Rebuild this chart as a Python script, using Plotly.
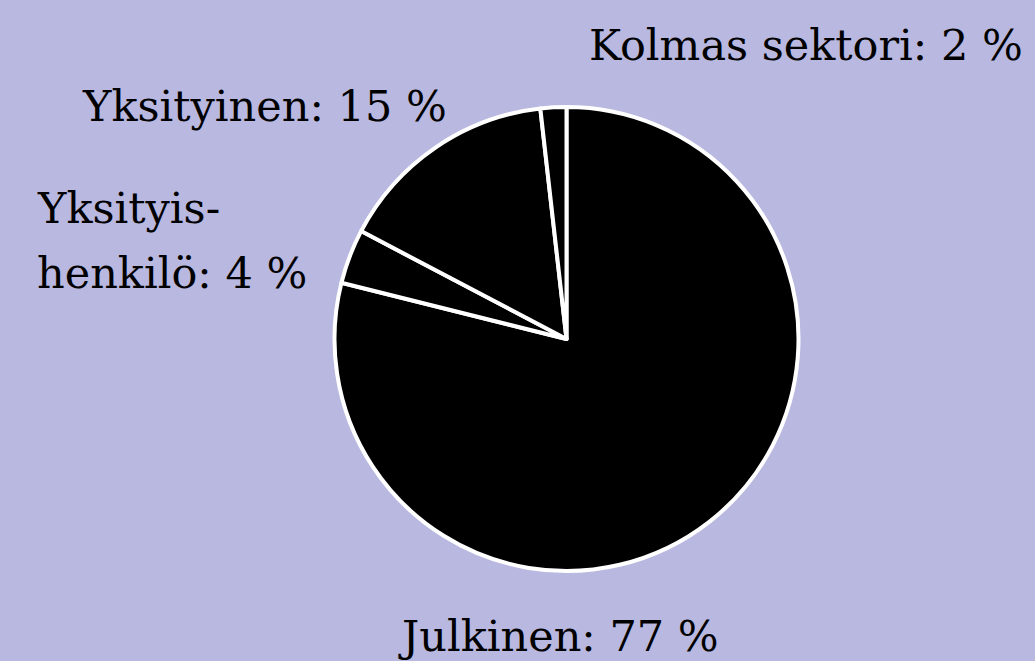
import plotly.graph_objects as go

# Data
categories = ["Julkinen", "Yksityishenkilö", "Yksityinen", "Kolmas sektori"]
shares = [78.9, 3.8, 15.5, 1.8]          # slice sizes as drawn
label_pcts = ["77 %", "4 %", "15 %", "2 %"]  # printed labels

W, H = 1035, 661
BG = "#b8b8e0"
FONT = "DejaVu Serif"
FS = 43

fig = go.Figure(go.Pie(
    labels=categories,
    values=shares,
    sort=False,
    direction="clockwise",
    rotation=0,
    textinfo="none",
    hoverinfo="label+percent",
    marker=dict(colors=["#000000"] * 4, line=dict(color="#ffffff", width=4)),
    domain=dict(x=[(566.5 - 232) / W, (566.5 + 232) / W],
                y=[(H - 339 - 232) / H, (H - 339 + 232) / H]),
    showlegend=False,
))

def px(x, y):
    return x / W, 1 - y / H

annots = [
    (f"{categories[3]}: {label_pcts[3]}", 1025, 45, "right"),
    (f"{categories[2]}: {label_pcts[2]}", 80, 106, "left"),
    ("Yksityis-", 35, 208, "left"),
    (f"henkilö: {label_pcts[1]}", 35, 273, "left"),
    (f"{categories[0]}: {label_pcts[0]}", 558, 636, "center"),
]
for text, x, y, anchor in annots:
    ax, ay = px(x, y)
    fig.add_annotation(text=text, x=ax, y=ay, xref="paper", yref="paper",
                       xanchor=anchor, yanchor="middle", showarrow=False,
                       font=dict(family=FONT, size=FS, color="#000000"))

fig.update_layout(
    width=W, height=H,
    margin=dict(l=0, r=0, t=0, b=0),
    paper_bgcolor=BG, plot_bgcolor=BG,
)

fig.write_html(
    "out.html",
    config={"displayModeBar": False},
    post_script="document.body.style.margin='0';document.body.style.overflow='hidden';",
)
